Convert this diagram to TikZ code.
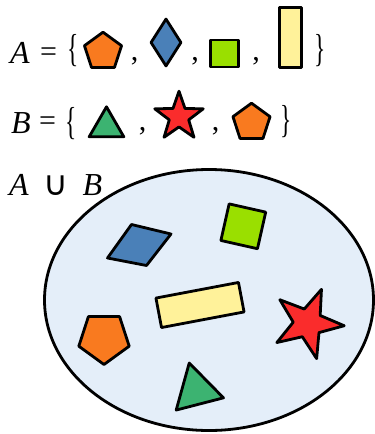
\documentclass[tikz,border=0pt]{standalone}
\usepackage{graphicx}
\usepackage{fontspec}
\setmainfont{Liberation Serif}
\newfontfamily\symfont{DejaVu Sans}
\usetikzlibrary{shapes.geometric}
\definecolor{tangerine}{RGB}{249,122,31}
\definecolor{steel}{RGB}{74,128,184}
\definecolor{lime}{RGB}{154,223,0}
\definecolor{cream}{RGB}{255,242,154}
\definecolor{jade}{RGB}{60,179,113}
\definecolor{scarlet}{RGB}{250,44,44}
\definecolor{mist}{RGB}{228,238,249}

\begin{document}
\begin{tikzpicture}[x=1pt, y=-1pt,
  piece/.style={draw, line width=2.8pt, line join=round, inner sep=0pt},
  letter/.style={inner sep=0pt, anchor=base, font=\fontsize{32}{34}\selectfont\itshape},
  eqsign/.style={inner sep=0pt, font=\fontsize{30}{32}\selectfont},
  brace/.style={inner sep=0pt, font=\fontsize{39}{40}\selectfont},
  sep/.style={inner sep=0pt, anchor=base, font=\fontsize{30}{32}\selectfont},
  penta/.style={regular polygon, regular polygon sides=5},
  tri/.style={regular polygon, regular polygon sides=3},
  starry/.style={star, star points=5, star point ratio=2.5}]
  \useasboundingbox (0,0) rectangle (375,434);

  % set A
  \node[letter] (nameA) at (20,63) {A};
  \node[eqsign] (eqA) at (48.5,54.5) {=};
  \node[brace] (openA) at (73,50.5) {\scalebox{0.6}[1]{\{}};
  \node[piece, fill=tangerine, penta, minimum size=39] (pentA) at (103,51.7) {};
  \node[sep] (commaA1) at (134.5,60) {,};
  \node[piece, fill=steel, diamond, minimum width=31, minimum height=48] (kiteA) at (166,42.5) {};
  \node[sep] (commaA2) at (195,60) {,};
  \node[piece, fill=lime, minimum width=28, minimum height=27] (boxA) at (224.5,53.5) {};
  \node[sep] (commaA3) at (256,60) {,};
  \node[piece, fill=cream, minimum width=22.5, minimum height=60.5] (barA) at (290.5,37.5) {};
  \node[brace] (closeA) at (320,50.5) {\scalebox{0.6}[1]{\}}};

  % set B
  \node[letter] (nameB) at (21,133) {B};
  \node[eqsign] (eqB) at (47.5,124) {=};
  \node[brace] (openB) at (71.5,123.5) {\scalebox{0.6}[1]{\{}};
  \node[piece, fill=jade, tri, minimum size=40] (triB) at (106.5,126.8) {};
  \node[sep] (commaB1) at (142.5,130) {,};
  \node[piece, fill=scarlet, starry, minimum size=51] (starB) at (179,116.7) {};
  \node[sep] (commaB2) at (215.5,130) {,};
  \node[piece, fill=tangerine, penta, minimum size=39] (pentB) at (251.5,122.7) {};
  \node[brace] (closeB) at (286,121.5) {\scalebox{0.6}[1]{\}}};

  % union
  \node[letter] (nameU1) at (19,195) {A};
  \node[letter, font=\fontsize{34}{36}\symfont] (cupU) at (56,195) {∪};
  \node[letter] (nameU2) at (92.5,195) {B};
  \node[draw, line width=2.8pt, fill=mist, ellipse, inner sep=0pt,
        minimum width=329, minimum height=261] (union) at (209,300) {};
  \draw[piece, fill=steel] (131.5,224.5) -- (171,234) -- (146.5,265.5) -- (107.5,258) -- cycle;
  \node[piece, fill=lime, minimum size=37.5, rotate=-12.7] (boxU) at (243.3,226.3) {};
  \node[piece, fill=cream, minimum width=84, minimum height=30, rotate=10.7] (barU) at (200,305) {};
  \node[piece, fill=tangerine, penta, minimum size=53, rotate=180] (pentU) at (104,338) {};
  \node[piece, fill=scarlet, starry, minimum size=73, rotate=-22] (starU) at (307.8,323.2) {};
  \node[piece, fill=jade, tri, minimum size=56.4, rotate=14.5] (triU) at (196.3,390.3) {};
\end{tikzpicture}
\end{document}
